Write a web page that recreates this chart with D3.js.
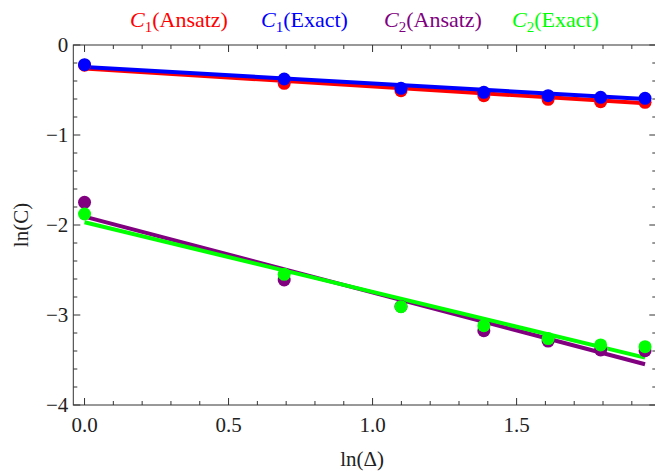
<!DOCTYPE html>
<html><head><meta charset="utf-8">
<script src="https://cdn.jsdelivr.net/npm/d3@7"></script>
<style>body{margin:0;background:#fff}svg{display:block}</style>
</head><body>
<script>
const xValues = [0, Math.log(2), Math.log(3), Math.log(4), Math.log(5), Math.log(6), Math.log(7)];
const c1Ansatz = [-0.225, -0.426, -0.507, -0.563, -0.604, -0.630, -0.637];
const c1Exact  = [-0.219, -0.378, -0.481, -0.526, -0.563, -0.581, -0.592];
const c2Ansatz = [-1.748, -2.611, -2.905, -3.174, -3.290, -3.389, -3.397];
const c2Exact  = [-1.878, -2.548, -2.907, -3.119, -3.262, -3.333, -3.352];
const fitIntercepts = [-0.262, -0.245, -1.907, -1.970];
const fitSlopes = [-0.198, -0.182, -0.843, -0.773];
const seriesNames = ["Ansatz", "Exact", "Ansatz", "Exact"];
const seriesIndex = ["1", "1", "2", "2"];
const colors = ["#ff0000", "#0000ff", "#800080", "#00ff00"];
const xMajorTicks = [0, 0.5, 1.0, 1.5];
const xTickLabels = ["0.0", "0.5", "1.0", "1.5"];
const yMajorTicks = [0, -1, -2, -3, -4];
const yTickLabels = ["0", "\u22121", "\u22122", "\u22123", "\u22124"];
const series = [c1Ansatz, c1Exact, c2Ansatz, c2Exact];

const W = 655, H = 473;
const L = 73.3, R = 656.3, T = 45, B = 405;
const svg = d3.select("body").append("svg").attr("width", W).attr("height", H);
const x = d3.scaleLinear().domain([-0.039, 1.985]).range([L, R]);
const y = d3.scaleLinear().domain([-4, 0]).range([B, T]);
const font = "'Liberation Serif','Times New Roman',serif";

// minor ticks
const xMinor = d3.range(0, 20).map(i => i / 10).filter(v => !xMajorTicks.some(m => Math.abs(m - v) < 1e-9));
const yMinor = d3.range(0, 21).map(i => -i / 5).filter(v => !yMajorTicks.some(m => Math.abs(m - v) < 1e-9));
const tickColor = "#333";
const gT = svg.append("g").attr("stroke", tickColor).attr("stroke-width", 1);
function xt(v, len) {
  gT.append("line").attr("x1", x(v)).attr("x2", x(v)).attr("y1", B).attr("y2", B - len);
  gT.append("line").attr("x1", x(v)).attr("x2", x(v)).attr("y1", T).attr("y2", T + len);
}
function yt(v, len) {
  gT.append("line").attr("y1", y(v)).attr("y2", y(v)).attr("x1", L).attr("x2", L + len);
  gT.append("line").attr("y1", y(v)).attr("y2", y(v)).attr("x1", R).attr("x2", R - len);
}
xMajorTicks.forEach(v => xt(v, 7));
xMinor.forEach(v => xt(v, 4));
yMajorTicks.forEach(v => yt(v, 7));
yMinor.forEach(v => yt(v, 4));

svg.append("rect").attr("x", L).attr("y", T).attr("width", R - L).attr("height", B - T)
  .attr("fill", "none").attr("stroke", tickColor).attr("stroke-width", 1);

// tick labels
svg.append("g").selectAll("text").data(xMajorTicks).join("text")
  .attr("x", d => x(d)).attr("y", B + 27).attr("text-anchor", "middle")
  .attr("font-family", font).attr("font-size", 21).attr("fill", "#222")
  .text((d, i) => xTickLabels[i]);
svg.append("g").selectAll("text").data(yMajorTicks).join("text")
  .attr("x", L - 5).attr("y", d => y(d) + 7).attr("text-anchor", "end")
  .attr("font-family", font).attr("font-size", 21).attr("fill", "#222")
  .text((d, i) => yTickLabels[i]);

// axis labels
svg.append("text").attr("x", (L + 655) / 2 - 2).attr("y", 466).attr("text-anchor", "middle")
  .attr("font-family", font).attr("font-size", 21).attr("fill", "#222").text("ln(\u0394)");
svg.append("text").attr("transform", `translate(28,${(T + B) / 2}) rotate(-90)`).attr("text-anchor", "middle")
  .attr("font-family", font).attr("font-size", 21).attr("fill", "#222").text("ln(C)");

// fit lines
const line = d3.line().x(d => x(d[0])).y(d => y(d[1]));
const x0 = d3.min(xValues), x1 = d3.max(xValues);
const gPlot = svg.append("g");
series.forEach((s, i) => {
  const a = fitIntercepts[i], b = fitSlopes[i];
  gPlot.append("path").attr("d", line([[x0, a + b * x0], [x1, a + b * x1]]))
    .attr("stroke", colors[i]).attr("stroke-width", 4).attr("fill", "none");
});
series.forEach((s, i) => {
  gPlot.append("g").selectAll("circle").data(s).join("circle")
    .attr("cx", (d, j) => x(xValues[j])).attr("cy", d => y(d)).attr("r", 6.5)
    .attr("fill", colors[i]);
});

// legend
const legendX = [130, 261, 384, 512];
series.forEach((s, i) => {
  const t = svg.append("text").attr("x", legendX[i]).attr("y", 27)
    .attr("font-family", font).attr("font-size", 22).attr("fill", colors[i]);
  t.append("tspan").attr("font-style", "italic").text("C");
  t.append("tspan").attr("font-size", 15).attr("dy", 5).text(seriesIndex[i]);
  t.append("tspan").attr("dy", -5).text("(" + seriesNames[i] + ")");
});
</script>
</body></html>
